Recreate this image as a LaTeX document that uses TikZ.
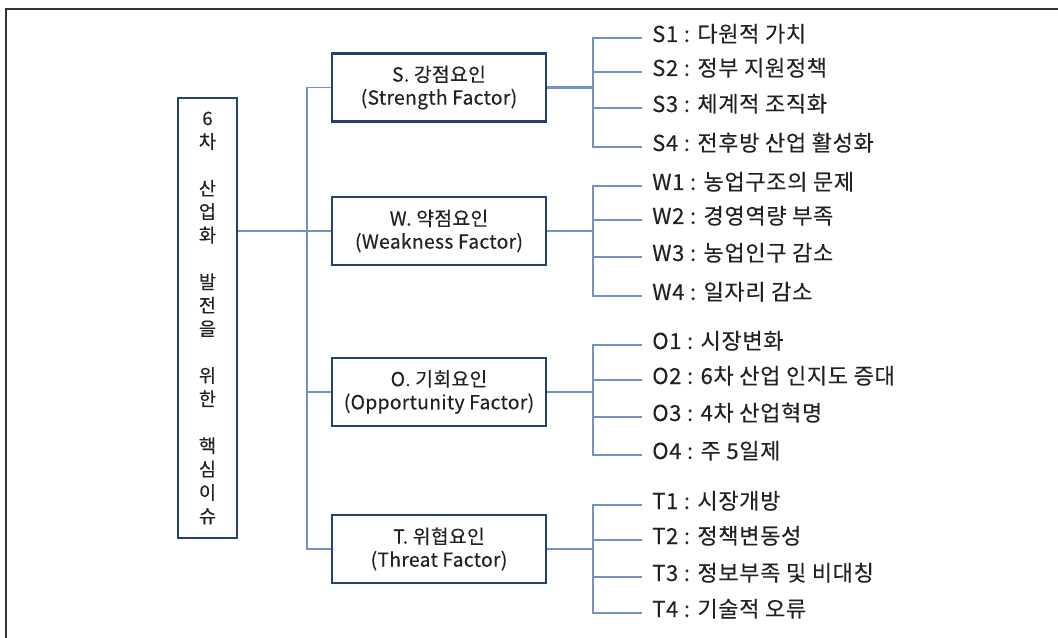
\documentclass[tikz,border=0pt]{standalone}
\usepackage{fontspec}
\setmainfont{Noto Sans CJK KR}[FakeBold=0.25]
\definecolor{navy}{RGB}{38,64,115}
\definecolor{lnk}{RGB}{112,146,200}
\definecolor{txt}{RGB}{34,34,34}
\begin{document}
\begin{tikzpicture}[x=0.75pt,y=-0.75pt,
  every node/.style={text=txt,font=\fontsize{13.5pt}{17pt}\selectfont},
  factor/.style={draw=navy,line width=2.2pt,minimum width=214*0.75pt,minimum height=68*0.75pt,align=center,inner sep=0pt,font=\fontsize{14.5pt}{17.3pt}\selectfont\addfontfeatures{LetterSpace=1.5}},
  item/.style={anchor=west,inner xsep=7.5pt,inner ysep=0pt,text height=0.8em,text depth=0.2em,font=\fontsize{16.5pt}{19pt}\selectfont\addfontfeatures{LetterSpace=3}},
  conn/.style={draw=lnk,line width=1.1pt},
  connb/.style={draw=lnk,line width=1.7pt},
  frame/.style={draw=black!80,line width=1.6pt}]
\useasboundingbox (0,0) rectangle (1058,638);
\draw[frame] (6,640) -- (6,9) -- (1060,9);
% main box
\node[draw=navy,line width=2.2pt,minimum width=59*0.75pt,minimum height=440*0.75pt,inner sep=0pt,align=center,font=\fontsize{14pt}{17.55pt}\selectfont] (main) at (207.5,318)
 {6\\차\\ \\산\\업\\화\\ \\발\\전\\을\\ \\위\\한\\ \\핵\\심\\이\\슈};
% factor boxes
\node[factor] (S) at (439,87.5) {S. 강점요인\\(Strength Factor)};
\node[factor] (W) at (439,231) {W. 약점요인\\(Weakness Factor)};
\node[factor] (O) at (439,392) {O. 기회요인\\(Opportunity Factor)};
\node[factor] (T) at (439,549) {T. 위협요인\\(Threat Factor)};
\coordinate (tk) at (307,0);
\coordinate (br) at (593,0);
% trunk
\draw[conn] (S.west) -- (S.west -| tk) -- (T.west -| tk) -- (T.west);
\draw[conn] (main.east |- W.west) -- (W.west);
\draw[conn] (O.west -| tk) -- (O.west);
% items
\node[item] (S1) at (642,38) {S1 : 다원적 가치};
\node[item] (S2) at (642,72) {S2 : 정부 지원정책};
\node[item] (S3) at (642,108) {S3 : 체계적 조직화};
\node[item] (S4) at (642,147) {S4 : 전후방 산업 활성화};
\node[item] (W1) at (642,186) {W1 : 농업구조의 문제};
\node[item] (W2) at (642,220) {W2 : 경영역량 부족};
\node[item] (W3) at (642,257) {W3 : 농업인구 감소};
\node[item] (W4) at (642,296) {W4 : 일자리 감소};
\node[item] (O1) at (642,345) {O1 : 시장변화};
\node[item] (O2) at (642,380) {O2 : 6차 산업 인지도 증대};
\node[item] (O3) at (642,417) {O3 : 4차 산업혁명};
\node[item] (O4) at (642,455) {O4 : 주 5일제};
\node[item] (T1) at (642,505) {T1 : 시장개방};
\node[item] (T2) at (642,540) {T2 : 정책변동성};
\node[item] (T3) at (642,577) {T3 : 정보부족 및 비대칭};
\node[item] (T4) at (642,613) {T4 : 기술적 오류};
\foreach \g in {S,W,O,T}{
  \draw[connb] (\g.east) -- (\g.east -| br);
  \draw[conn] (\g1.west) -- (\g1.west -| br) -- (\g4.west -| br) -- (\g4.west);
  \draw[conn] (\g2.west -| br) -- (\g2.west);
  \draw[conn] (\g3.west -| br) -- (\g3.west);
}
\end{tikzpicture}
\end{document}
